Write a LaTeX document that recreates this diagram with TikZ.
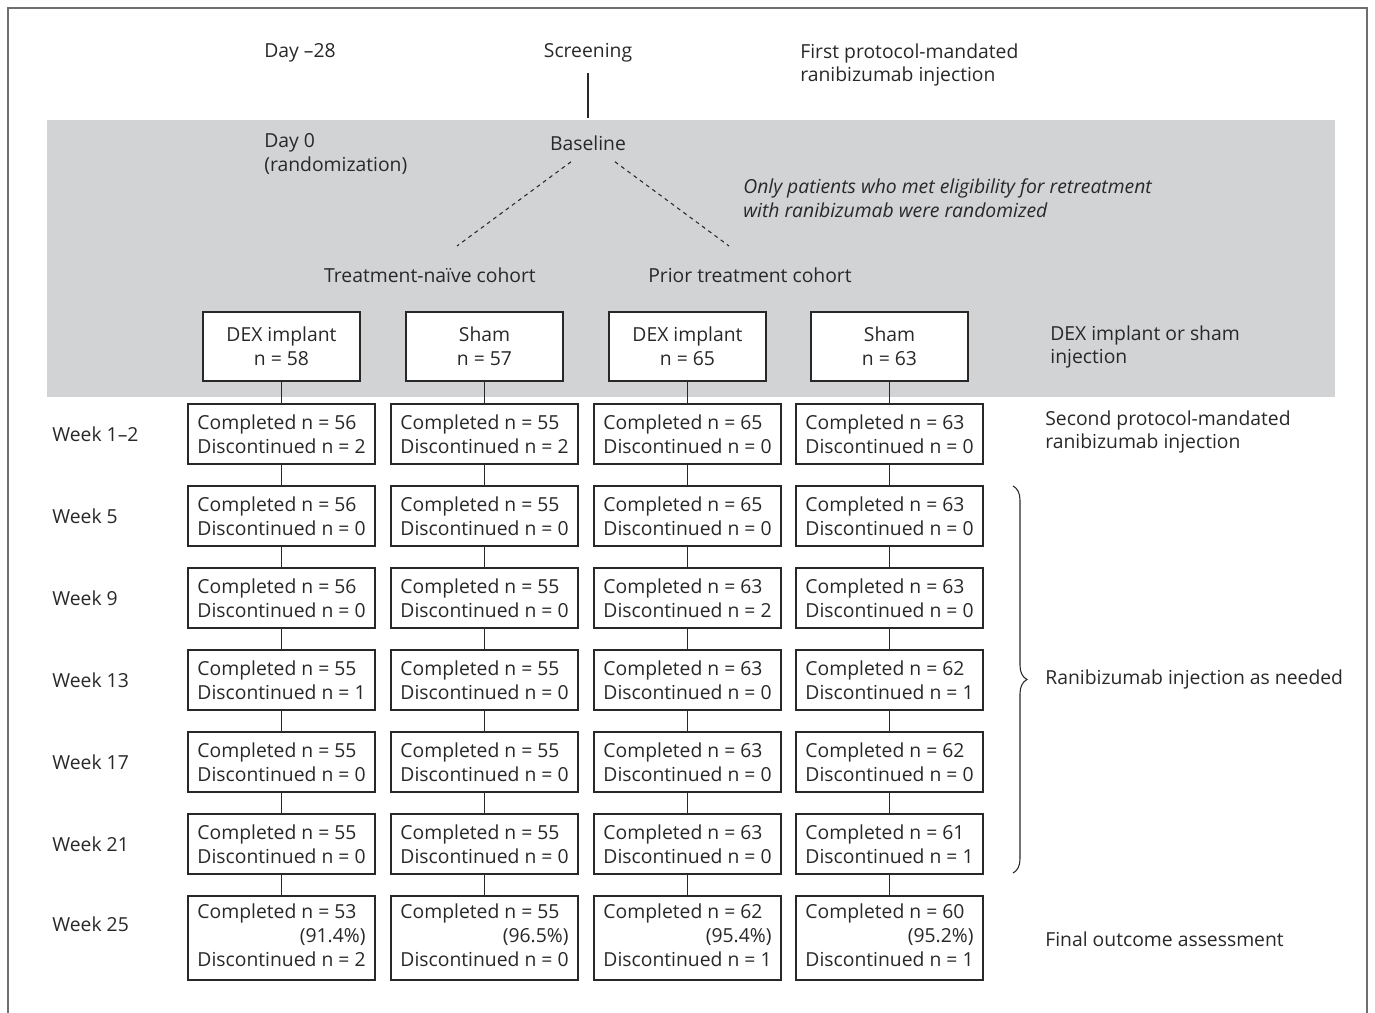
\documentclass[tikz,border=0pt]{standalone}
\usepackage{fontspec}
\setmainfont{Open Sans}
\usepackage{tikz}
\usetikzlibrary{decorations.pathreplacing}

\definecolor{bandgray}{RGB}{209,211,212}
\definecolor{inkgray}{RGB}{40,40,40}
\definecolor{framegray}{RGB}{110,110,110}
\newcommand{\flowfont}{\fontsize{11}{13.6}\selectfont}
\newcommand{\finalcell}[3]{\begin{tabular}{@{}l@{}}Completed n = #1\\\hfill(#2\%)\hspace{0.08cm}\\Discontinued n = #3\end{tabular}}

\tikzset{
  lbl/.style={inner sep=0pt, text=inkgray, font=\flowfont, align=left},
  armbox/.style={draw=inkgray, line width=0.7pt, fill=white, text=inkgray, font=\flowfont,
    align=center, minimum width=3.14cm, minimum height=1.38cm, inner sep=0pt},
  visitbox/.style={draw=inkgray, line width=0.7pt, fill=white, text=inkgray, font=\flowfont,
    align=left, minimum width=3.74cm, minimum height=1.2cm, inner sep=0pt},
  link/.style={draw=inkgray, line width=0.7pt},
  dashlink/.style={draw=inkgray, line width=0.6pt, dash pattern=on 2.2pt off 2.2pt},
}

\begin{document}
\begin{tikzpicture}[x=0.02cm, y=-0.02cm]
  % Canvas and frame
  \useasboundingbox (0,0) rectangle (1375,1013);
  \draw[framegray, line width=0.8pt] (8,1013) -- (8,8) -- (1367,8) -- (1367,1013);

  % Randomization band
  \fill[bandgray] (47,120) rectangle (1335,397);

  % Screening and baseline
  \node[lbl, anchor=west] (day28) at (264,53) {Day –28};
  \node[lbl] (screen) at (588,53) {Screening};
  \node[lbl, anchor=west] (firstinj) at (800,65) {First protocol-mandated\\ranibizumab injection};
  \node[lbl, anchor=west] (day0) at (264,154) {Day 0\\(randomization)};
  \node[lbl] (base) at (588,143) {Baseline};
  \node[lbl, anchor=west, font=\flowfont\itshape] (elig) at (743,198)
    {Only patients who met eligibility for retreatment\\with ranibizumab were randomized};
  \coordinate (bandTop) at (588,118);
  \draw[link, shorten <=0.2cm] (screen.south) -- (bandTop);

  % Cohorts
  \node[lbl] (naive) at (430,275) {Treatment-naïve cohort};
  \node[lbl] (prior) at (750,275) {Prior treatment cohort};
  \coordinate (naiveEnd) at (457,246);
  \coordinate (priorEnd) at (729,246);
  \draw[dashlink] ([xshift=-0.34cm, yshift=-0.22cm]base.south) -- (naiveEnd);
  \draw[dashlink] ([xshift=0.54cm, yshift=-0.22cm]base.south) -- (priorEnd);

  % Treatment arms
  \node[armbox] (ta) at (281.5,346.5) {DEX implant\\n = 58};
  \node[armbox] (tb) at (484.5,346.5) {Sham\\n = 57};
  \node[armbox] (tc) at (687.5,346.5) {DEX implant\\n = 65};
  \node[armbox] (td) at (889.5,346.5) {Sham\\n = 63};
  \node[lbl, anchor=west] (armnote) at (1050,347) {DEX implant or sham\\injection};

  % Follow-up visits
  \foreach \r/\y/\wk/\na/\ma/\nb/\mb/\nc/\mc/\nd/\md in {
      1/434/1–2/56/2/55/2/65/0/63/0,
      2/516/5/56/0/55/0/65/0/63/0,
      3/598/9/56/0/55/0/63/2/63/0,
      4/680/13/55/1/55/0/63/0/62/1,
      5/762/17/55/0/55/0/63/0/62/0,
      6/844/21/55/0/55/0/63/0/61/1} {
    \node[lbl, anchor=west] (wk\r) at (52,\y) {Week \wk};
    \node[visitbox] (a\r) at (281.5,\y) {Completed n = \na\\Discontinued n = \ma};
    \node[visitbox] (b\r) at (484.5,\y) {Completed n = \nb\\Discontinued n = \mb};
    \node[visitbox] (c\r) at (687.5,\y) {Completed n = \nc\\Discontinued n = \mc};
    \node[visitbox] (d\r) at (889.5,\y) {Completed n = \nd\\Discontinued n = \md};
  }

  % Week 25
  \node[lbl, anchor=west] (wk7) at (52,924) {Week 25};
  \node[visitbox, minimum height=1.68cm] (a7) at (281.5,938) {\finalcell{53}{91.4}{2}};
  \node[visitbox, minimum height=1.68cm] (b7) at (484.5,938) {\finalcell{55}{96.5}{0}};
  \node[visitbox, minimum height=1.68cm] (c7) at (687.5,938) {\finalcell{62}{95.4}{1}};
  \node[visitbox, minimum height=1.68cm] (d7) at (889.5,938) {\finalcell{60}{95.2}{1}};

  % Connectors
  \foreach \c in {a,b,c,d} {
    \draw[link] (t\c) -- (\c1);
    \foreach \r [evaluate=\r as \s using int(\r+1)] in {1,...,6}
      \draw[link] (\c\r) -- (\c\s);
  }

  % Notes on the right
  \node[lbl, anchor=west] (second) at (1045,432) {Second protocol-mandated\\ranibizumab injection};
  \draw[link, line width=0.6pt, decorate, decoration={brace, amplitude=0.28cm}] (1013,486) -- (1013,873);
  \node[lbl, anchor=west] (asneeded) at (1045,679) {Ranibizumab injection as needed};
  \node[lbl, anchor=west] (final) at (1045,939) {Final outcome assessment};
\end{tikzpicture}
\end{document}
